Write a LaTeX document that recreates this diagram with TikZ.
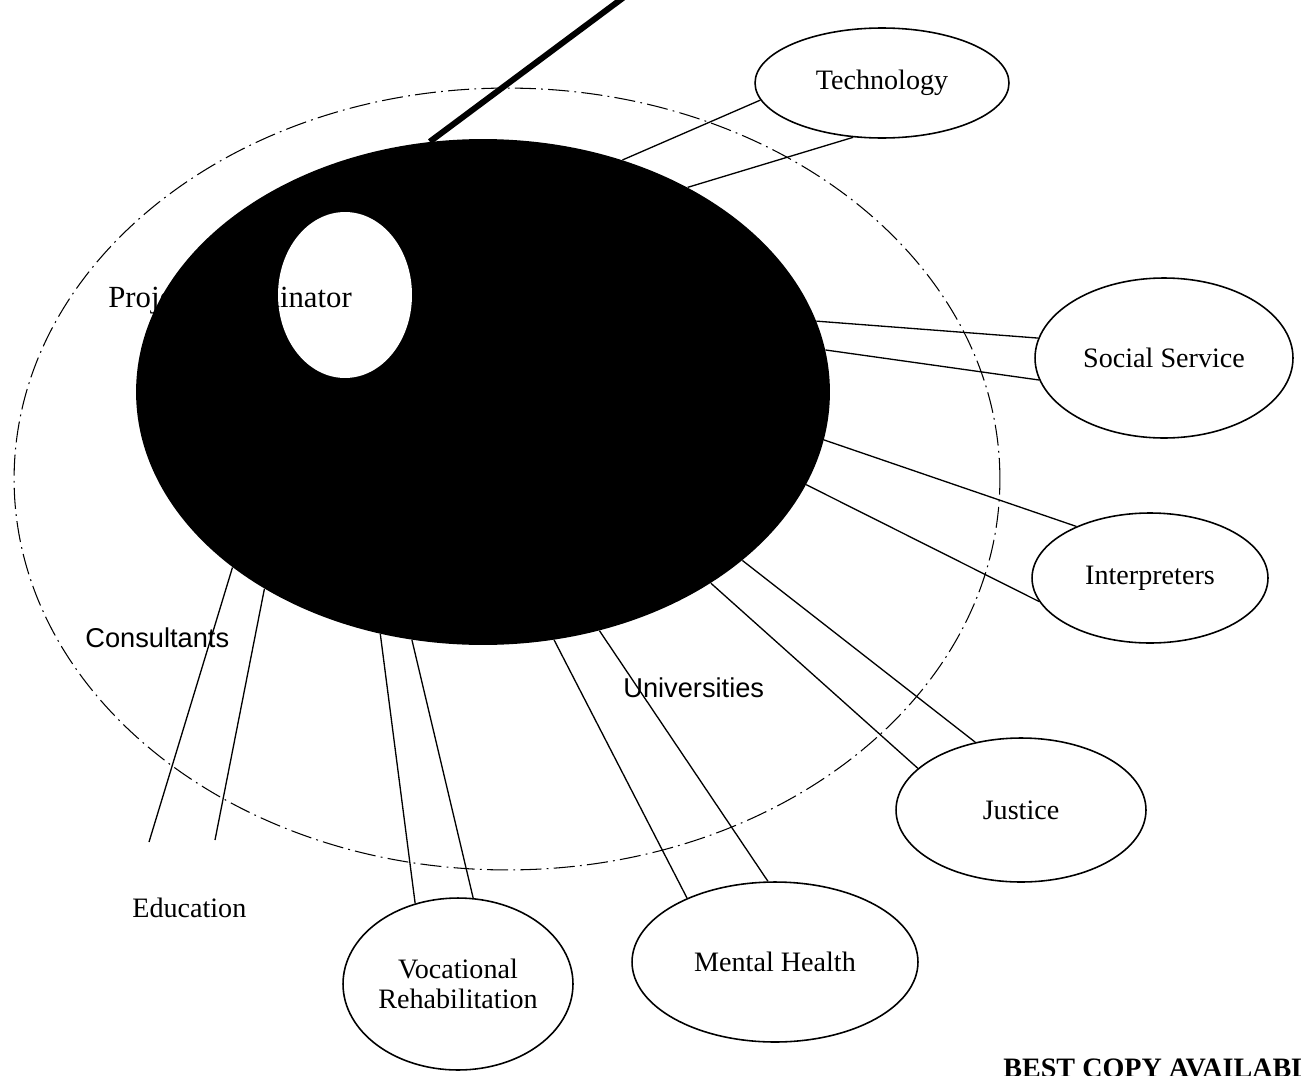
\documentclass[tikz,border=0pt]{standalone}
\usepackage{fontspec}
\setmainfont{Liberation Serif}
\setsansfont{Liberation Sans}
\usetikzlibrary{shapes.geometric, positioning, calc}

\begin{document}
\begin{tikzpicture}[x=0.02cm, y=-0.02cm,
        agency/.style={ellipse, draw, line width=0.9pt, fill=white, inner sep=0pt,
            align=center, font=\fontsize{16}{17}\selectfont},
        link/.style={line width=0.75pt},
        ring/.style={line width=0.6pt, dash pattern=on 12pt off 3pt on 1pt off 3pt},
        tag/.style={anchor=base west, inner sep=0pt, font=\fontsize{16}{17}\selectfont},
        sanstag/.style={anchor=base west, inner sep=0pt, font=\sffamily\fontsize{15.5}{17}\selectfont}]
        \useasboundingbox (0,0) rectangle (1301,1075);
        \clip (0,0) rectangle (1301,1075);

        % ----------------------------------------------------
        % Outer dash-dot boundary
        % ----------------------------------------------------
        \draw[ring] (507,479) ellipse [x radius=9.86cm, y radius=7.82cm];

        % ----------------------------------------------------
        % Hub: Project Coordinator
        % ----------------------------------------------------
        \node[ellipse, fill=black, inner sep=0pt, minimum width=13.88cm, minimum height=10.12cm] (hub) at (483,392) {};
        \node[ellipse, fill=white, inner sep=0pt, minimum width=2.68cm, minimum height=3.32cm] (blob) at (345,295) {};
        \node[tag, font=\fontsize{17.5}{18}\selectfont] (coordlabel) at (108,307) {Project Coordinator};

        % thick lead leaving the top of the page
        \coordinate (lead) at (647,-20);
        \draw[line width=3.4pt] (hub.102) -- (lead);

        % ----------------------------------------------------
        % Agencies
        % ----------------------------------------------------
        \node[agency, minimum width=5.08cm, minimum height=2.2cm] (tech) at (882,83) {Technology};
        \node[agency, minimum width=5.16cm, minimum height=3.2cm] (social) at (1164,358) {Social Service};
        \node[agency, minimum width=4.72cm, minimum height=2.6cm] (interp) at (1150,578) {Interpreters};
        \node[agency, minimum width=5.0cm, minimum height=2.88cm] (justice) at (1021,810) {Justice};
        \node[agency, minimum width=5.72cm, minimum height=3.2cm] (mental) at (775,962) {Mental Health};
        \node[agency, minimum width=4.6cm, minimum height=3.44cm] (voc) at (458,984) {Vocational\\Rehabilitation};

        % Labels without a frame
        \node[tag] (edu) at (132,917) {Education};
        \coordinate (edu a) at (149,842);
        \coordinate (edu b) at (215,840);
        \node[sanstag] (consult) at (85,647) {Consultants};
        \node[sanstag] (univ) at (623,697) {Universities};

        % ----------------------------------------------------
        % Links (two per agency)
        % ----------------------------------------------------
        \foreach \a/\n/\b in {59.4/tech/188.5, 45.4/tech/242.7,
                12.7/social/171.4, 7.3/social/190.8,
                352.8/interp/145.5, 344.3/interp/192.8,
                327.8/justice/124.6, 320.3/justice/158.7,
                296/mental/95.8, 286.6/mental/144.4,
                254.4/voc/80.1, 247/voc/118}
            \draw[link] (hub.\a) -- (\n.\b);
        \draw[link] (hub.215.8) -- (edu a);
        \draw[link] (hub.222.3) -- (edu b);

        % stamp, cut by the page edge
        \node[tag, font=\bfseries\fontsize{16}{17}\selectfont] (stamp) at (1003,1077) {BEST COPY AVAILABLE};
    \end{tikzpicture}
\end{document}
